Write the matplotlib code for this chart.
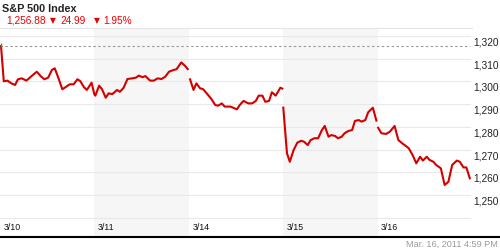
import matplotlib
matplotlib.use("Agg")
import matplotlib.pyplot as plt
import numpy as np
from matplotlib.lines import Line2D
from matplotlib.transforms import blended_transform_factory, offset_copy

plt.rcParams['font.family'] = ['Liberation Sans', 'DejaVu Sans']

# ---------------- data ----------------
title = "S&P 500 Index"
last_value = "1,256.88"
change_value = "24.99"
change_pct = "1.95%"
timestamp = "Mar. 16, 2011 4:59 PM"

day_labels = ["3/10", "3/11", "3/14", "3/15", "3/16"]
shaded_days = [1, 3]
prev_close = 1315.5

grid_values = [1240, 1250, 1260, 1270, 1280, 1290, 1300, 1310, 1320]
ytick_values = [1250, 1260, 1270, 1280, 1290, 1300, 1310, 1320]
ytick_labels = ["1,250", "1,260", "1,270", "1,280", "1,290", "1,300", "1,310", "1,320"]

# fraction of the trading day, index value
d0_t = [0.01, 0.04, 0.08, 0.12, 0.16, 0.19, 0.23, 0.28, 0.34, 0.39, 0.43, 0.47, 0.51,
        0.55, 0.58, 0.62, 0.66, 0.70, 0.74, 0.78, 0.82, 0.85, 0.89, 0.92, 0.97, 1.00]
d0_v = [1315.9, 1300.0, 1300.3, 1299.1, 1298.4, 1300.9, 1301.3, 1300.3, 1302.5, 1304.2,
        1302.3, 1300.9, 1301.6, 1305.0, 1305.7, 1301.3, 1296.5, 1297.6, 1298.7, 1298.7,
        1300.9, 1300.1, 1297.4, 1296.2, 1299.4, 1294.2]

d1_t = [0.01, 0.05, 0.08, 0.12, 0.15, 0.19, 0.24, 0.27, 0.31, 0.35, 0.40, 0.44, 0.47,
        0.51, 0.54, 0.59, 0.63, 0.67, 0.71, 0.75, 0.79, 0.84, 0.87, 0.92, 0.96, 0.995]
d1_v = [1293.7, 1298.1, 1296.6, 1292.8, 1294.7, 1294.4, 1296.2, 1295.4, 1297.2, 1301.0,
        1301.3, 1301.6, 1302.5, 1301.8, 1302.3, 1300.3, 1300.3, 1301.3, 1301.0, 1302.0,
        1304.2, 1305.0, 1305.3, 1308.3, 1306.8, 1305.0]

d2_t = [0.01, 0.05, 0.08, 0.12, 0.15, 0.19, 0.24, 0.28, 0.31, 0.35, 0.38, 0.44, 0.47,
        0.51, 0.54, 0.58, 0.63, 0.67, 0.71, 0.74, 0.78, 0.81, 0.85, 0.88, 0.92, 0.97, 1.00]
d2_v = [1301.3, 1296.2, 1299.1, 1296.9, 1296.6, 1294.7, 1292.2, 1289.6, 1289.3, 1290.3,
        1288.9, 1288.9, 1288.4, 1287.7, 1289.6, 1291.4, 1290.3, 1290.3, 1291.4, 1293.7,
        1293.7, 1291.0, 1291.4, 1295.2, 1293.7, 1297.2, 1296.6]

d3_t = [0.00, 0.04, 0.07, 0.11, 0.15, 0.19, 0.22, 0.26, 0.29, 0.33, 0.37, 0.41, 0.44,
        0.48, 0.51, 0.55, 0.58, 0.62, 0.65, 0.69, 0.73, 0.76, 0.80, 0.83, 0.87, 0.90,
        0.95, 0.99]
d3_v = [1288.9, 1268.4, 1264.7, 1269.8, 1273.1, 1273.9, 1273.5, 1272.0, 1274.2, 1275.0,
        1275.0, 1278.6, 1280.4, 1275.7, 1276.4, 1276.0, 1275.0, 1275.7, 1277.2, 1278.2,
        1278.6, 1282.6, 1283.0, 1282.3, 1283.0, 1286.4, 1288.4, 1282.3]

d4_t = [0.00, 0.04, 0.09, 0.13, 0.18, 0.22, 0.26, 0.30, 0.33, 0.37, 0.41, 0.45, 0.48,
        0.52, 0.55, 0.59, 0.62, 0.67, 0.71, 0.75, 0.79, 0.84, 0.87, 0.91, 0.94, 0.98]
d4_v = [1280.0, 1277.2, 1276.9, 1277.9, 1280.4, 1274.2, 1272.8, 1271.6, 1270.6, 1267.7,
        1264.0, 1266.9, 1265.2, 1266.9, 1265.5, 1264.7, 1263.3, 1261.8, 1254.5, 1255.9,
        1263.3, 1265.2, 1264.7, 1262.2, 1262.2, 1257.0]

# segments: 3/10 and 3/11 drawn as one continuous line
segments = [
    ([0, 1], [d0_t, d1_t], [d0_v, d1_v]),
    ([2], [d2_t], [d2_v]),
    ([3], [d3_t], [d3_v]),
    ([4], [d4_t], [d4_v]),
]

# ---------------- figure ----------------
W, H = 500, 250
fig = plt.figure(figsize=(W / 100, H / 100), dpi=100)
ax_top_px, ax_bot_px, ax_right_px = 28, 236, 472
ax = fig.add_axes([0, (H - ax_bot_px) / H, ax_right_px / W, (ax_bot_px - ax_top_px) / H])
ax.set_xlim(0, 5)
ax.set_ylim(1232.1, 1323.4)
ax.set_xticks([])
ax.set_yticks([])
for s in ["left", "right", "bottom"]:
    ax.spines[s].set_visible(False)
ax.spines["top"].set_color("#e4e4e4")
ax.spines["top"].set_linewidth(0.8)

for d in shaded_days:
    ax.axvspan(d, d + 1, color="#f6f6f6", lw=0, zorder=0)

gx = 470 / 472
for g in grid_values:
    ax.axhline(g, xmin=0, xmax=gx, color="#e9e9e9", lw=0.8, zorder=1)
ax.axhline(prev_close, xmin=0, xmax=gx, color="#9a9a9a", lw=0.8,
           ls=(0, (2.2, 2.2)), zorder=2)

line_color = "#d40000"
for days, ts, vs in segments:
    xs, ys = [], []
    for d, t, v in zip(days, ts, vs):
        xs += [d + ti for ti in t]
        ys += list(v)
    ax.plot(xs, ys, color=line_color, lw=1.5, solid_joinstyle="round",
            solid_capstyle="butt", zorder=3)
ax.plot([d0_t[0]], [d0_v[0]], marker="|", color="#2e9e2e", ms=2.5, mew=1.0, zorder=4)

# y tick labels on right
ytrans = offset_copy(blended_transform_factory(ax.transAxes, ax.transData),
                     fig=fig, x=1.0, y=-1.5, units="dots")
for v, lab in zip(ytick_values, ytick_labels):
    ax.text(1.0, v, lab, transform=ytrans, ha="left", va="top", fontsize=7.3,
            color="#222222", clip_on=False)

# x day labels inside the plot bottom
xtrans = offset_copy(blended_transform_factory(ax.transData, ax.transAxes),
                     fig=fig, x=3.5, y=8.5, units="dots")
for i, lab in enumerate(day_labels):
    ax.text(i, 0, lab, transform=xtrans, ha="left", va="center", fontsize=6.3,
            color="#111111")

# header
fig.text(2 / W, 1 - 3.5 / H, title, fontsize=7.8, fontweight="bold", ha="left",
         va="top", color="#222222")
red = "#e80000"
yh = 1 - 20.5 / H
fig.text(6 / W, yh, last_value, fontsize=7.3, color=red, ha="left", va="center")
fig.text(49.5 / W, yh, "\u25bc", fontsize=5.5, color=red, ha="left", va="center",
         family=["DejaVu Sans"])
fig.text(60 / W, yh, change_value, fontsize=7.3, color=red, ha="left", va="center")
fig.text(93.5 / W, yh, "\u25bc", fontsize=5.5, color=red, ha="left", va="center",
         family=["DejaVu Sans"])
fig.text(103 / W, yh, change_pct, fontsize=7.3, color=red, ha="left", va="center")

# bottom axis bar and timestamp
yb = (H - 236.8) / H
fig.add_artist(Line2D([0, 1], [yb, yb], transform=fig.transFigure, color="black", lw=1.5))
fig.text(498 / W, 1 - 244 / H, timestamp, fontsize=6.6, color="#9a9a9a",
         ha="right", va="center")

fig.savefig("out.png", dpi=100)
